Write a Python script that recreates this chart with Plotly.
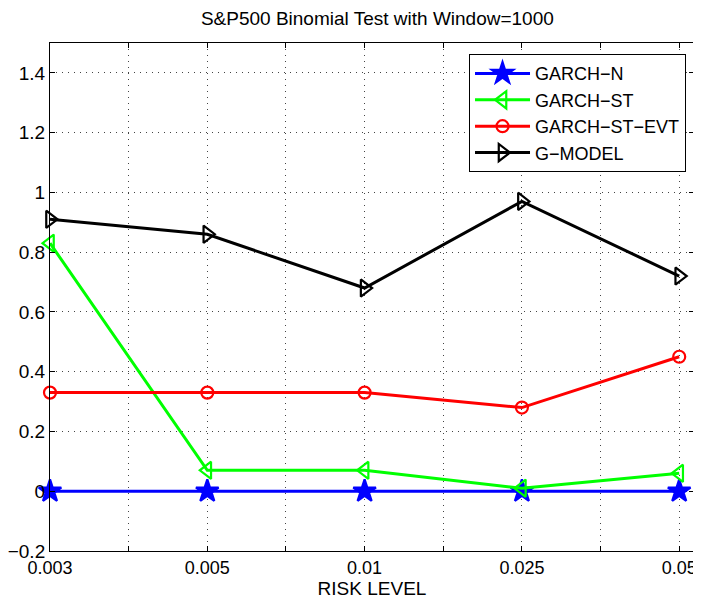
import plotly.graph_objects as go

risk_levels = ["0.003", "0.005", "0.01", "0.025", "0.05"]
garch_n = [0, 0, 0, 0, 0]
garch_st = [0.83, 0.07, 0.07, 0.01, 0.06]
garch_st_evt = [0.33, 0.33, 0.33, 0.28, 0.45]
g_model = [0.91, 0.86, 0.68, 0.97, 0.72]

y_ticks = [-0.2, 0, 0.2, 0.4, 0.6, 0.8, 1, 1.2, 1.4]

x = list(range(1, len(risk_levels) + 1))
x_tickvals = [1 + 0.5 * i for i in range(2 * len(risk_levels) - 1)]
x_ticktext = [risk_levels[i // 2] if i % 2 == 0 else "" for i in range(len(x_tickvals))]

FONT = "Liberation Sans, Arial, Helvetica, sans-serif"

fig = go.Figure()
series = [
    ("GARCH\u2212N", garch_n, "#0000ff", "star", 17),
    ("GARCH\u2212ST", garch_st, "#00ff00", "triangle-left-open", 15),
    ("GARCH\u2212ST\u2212EVT", garch_st_evt, "#ff0000", "circle-open", 12),
    ("G\u2212MODEL", g_model, "#000000", "triangle-right-open", 15),
]
for name, vals, color, sym, size in series:
    fig.add_trace(go.Scatter(
        x=x, y=vals, name=name, mode="lines+markers",
        line=dict(color=color, width=3),
        marker=dict(symbol=sym, size=size, color=color,
                    line=dict(color=color, width=2.2)),
        cliponaxis=False,
    ))

axis_common = dict(
    showline=True, linecolor="black", linewidth=1, mirror="ticks",
    ticks="inside", ticklen=5, tickcolor="black",
    showgrid=True, gridcolor="#444444", griddash="1px,5px", gridwidth=1,
    zeroline=False,
)

fig.update_layout(
    width=693, height=594,
    margin=dict(l=42, r=7, t=35, b=51),
    paper_bgcolor="white", plot_bgcolor="white",
    title=dict(text="S&P500 Binomial Test with Window=1000",
               font=dict(family=FONT, size=19, color="black"),
               x=0.533, xanchor="center", y=0.983, yanchor="middle"),
    xaxis=dict(range=[1, 5.094], tickvals=x_tickvals, ticktext=x_ticktext,
               tickfont=dict(family=FONT, size=18, color="black"),
               title=dict(text="RISK LEVEL", font=dict(family=FONT, size=19, color="black"), standoff=2),
               automargin=False, **axis_common),
    yaxis=dict(range=[-0.2, 1.5], tickvals=y_ticks, automargin=False,
               tickfont=dict(family=FONT, size=19, color="black"),
               **axis_common),
    legend=dict(x=0.9876, xanchor="right", y=0.978, yanchor="top",
                bordercolor="black", borderwidth=1, bgcolor="white",
                font=dict(family=FONT, size=18, color="black"),
                tracegroupgap=0, itemwidth=55),
    showlegend=True,
)

fig.write_html("out.html")
